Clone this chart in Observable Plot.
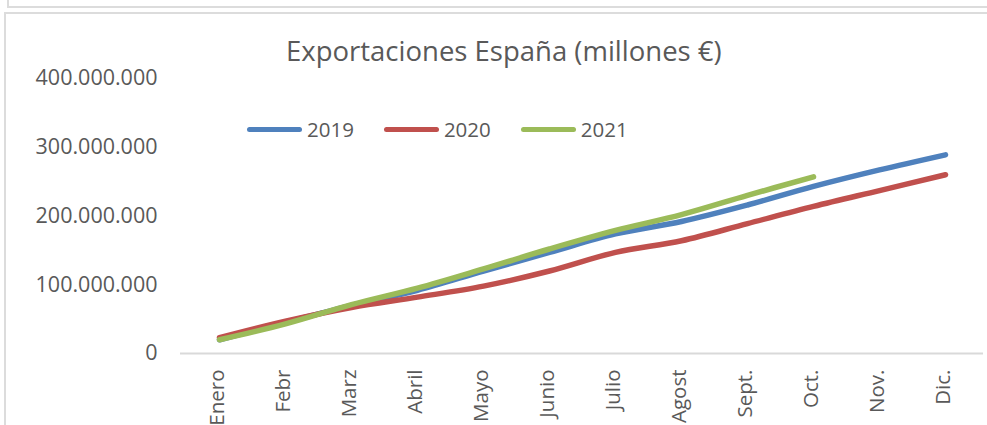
<!DOCTYPE html>
<html>
<head>
<meta charset="utf-8">
<script src="https://cdn.jsdelivr.net/npm/d3@7"></script>
<script src="https://cdn.jsdelivr.net/npm/@observablehq/plot@0.6"></script>
<style>
  html, body { margin: 0; padding: 0; background: #fff; }
  #wrap { position: relative; width: 987px; height: 425px; overflow: hidden; font-family: "Open Sans", "Noto Sans", sans-serif; }
  .frame1 { position: absolute; left: 7px; top: -10px; width: 1000px; height: 16px; border-left: 2px solid #dcdcdc; border-bottom: 2px solid #dcdcdc; }
  .frame2 { position: absolute; left: 4px; top: 12px; width: 1000px; height: 500px; border-left: 2px solid #dcdcdc; border-top: 2px solid #dcdcdc; }
  #title { position: absolute; left: 286px; top: 35px; white-space: nowrap; font-size: 27.5px; color: #595959; line-height: 32px; }
  #legend { position: absolute; top: 116px; left: 247px; display: flex; font-size: 20.5px; color: #595959; line-height: 26px; }
  .item { display: flex; align-items: center; margin-right: 30px; }
  .sw { width: 55px; height: 5px; border-radius: 3px; margin-right: 5px; }
  #chart { position: absolute; left: 0; top: 0; }
</style>
</head>
<body>
<div id="wrap">
  <div class="frame1"></div>
  <div class="frame2"></div>
  <div id="chart"></div>
  <div id="title">Exportaciones España (millones €)</div>
  <div id="legend"></div>
</div>
<script>
const months = ["Enero","Febr","Marz","Abril","Mayo","Junio","Julio","Agost","Sept.","Oct.","Nov.","Dic."];
const series = ["2019","2020","2021"];
const colors = ["#4f81bd","#c0504d","#9bbb59"];
const v2019 = [20e6, 45e6, 70e6, 92e6, 120e6, 147e6, 174e6, 192e6, 216e6, 243e6, 267e6, 289e6];
const v2020 = [23e6, 47e6, 67e6, 82e6, 98e6, 120e6, 147e6, 164e6, 189e6, 214e6, 237e6, 260e6];
const v2021 = [20e6, 43e6, 71e6, 95e6, 123e6, 152e6, 179e6, 202e6, 230e6, 257e6];
const yTicks = [0, 100e6, 200e6, 300e6, 400e6];

const values = [v2019, v2020, v2021];
const data = [];
series.forEach((s, i) => values[i].forEach((v, j) => data.push({month: months[j], year: s, value: v})));

const fmt = d3.formatLocale({thousands: ".", grouping: [3], decimal: ",", currency: ["", "€"]}).format(",d");

const chart = Plot.plot({
  width: 987,
  height: 425,
  marginLeft: 180,
  marginRight: 4,
  marginTop: 78,
  marginBottom: 72,
  style: {fontFamily: "'Open Sans', 'Noto Sans', sans-serif", background: "transparent"},
  x: {type: "point", domain: months, padding: 0.5},
  y: {domain: [0, 400e6]},
  color: {domain: series, range: colors},
  marks: [
    Plot.ruleY([0], {stroke: "#d9d9d9", strokeWidth: 2}),
    Plot.axisY({ticks: yTicks, tickFormat: fmt, tickSize: 0, tickPadding: 23, fontSize: 21.5, fill: "#595959", label: null}),
    Plot.axisX({tickRotate: -90, tickSize: 0, tickPadding: 16, dx: -2, fontSize: 20.5, fill: "#595959", label: null}),
    Plot.line(data, {x: "month", y: "value", z: "year", stroke: "year", strokeWidth: 5.5, strokeLinecap: "round", strokeLinejoin: "round", curve: "catmull-rom"})
  ]
});
document.getElementById("chart").appendChild(chart);

const legend = document.getElementById("legend");
series.forEach((s, i) => {
  const it = document.createElement("div");
  it.className = "item";
  const sw = document.createElement("div");
  sw.className = "sw";
  sw.style.background = colors[i];
  const t = document.createElement("span");
  t.textContent = s;
  it.appendChild(sw); it.appendChild(t);
  legend.appendChild(it);
});
</script>
</body>
</html>
